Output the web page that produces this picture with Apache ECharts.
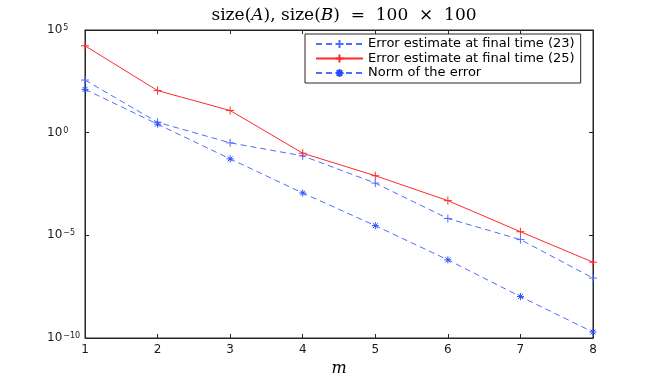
<!DOCTYPE html>
<html>
<head>
<meta charset="utf-8">
<script src="https://cdn.jsdelivr.net/npm/echarts@6/dist/echarts.min.js"></script>
<style>
  html, body { margin: 0; padding: 0; background: #fff; }
  #main { width: 654px; height: 382px; }
</style>
</head>
<body>
<div id="main"></div>
<script>
var m = [1, 2, 3, 4, 5, 6, 7, 8];
// values (log scale)
var est23 = [365, 3.2, 0.32, 0.074, 3.5e-3, 6.6e-5, 6.2e-6, 8.3e-8];
var est25 = [1.7e4, 112, 12, 0.1, 8e-3, 4.9e-4, 1.5e-5, 4.9e-7];
var errNorm = [129, 2.6, 0.053, 1.15e-3, 2.95e-5, 6.4e-7, 1.04e-8, 1.95e-10];
var yTicks = [1e-10, 1e-5, 1e0, 1e5];
var names = ['Error estimate at final time (23)', 'Error estimate at final time (25)', 'Norm of the error'];

var blue = '#4f6dff';
var red = '#ff2a2a';
var plus = 'path://M0,5L10,5M5,0L5,10';
var star = 'path://M5,0L5,10M0,5L10,5M1.5,1.5L8.5,8.5M1.5,8.5L8.5,1.5';

function pairs(ys) {
  return m.map(function (x, i) { return [x, ys[i]]; });
}

function supLabel(v) {
  var e = Math.round(Math.log10(v));
  return '{b|10}{s|' + String(e).replace('-', '\u2212') + '}';
}

var axisCol = '#262626';
var tickFont = { fontFamily: 'DejaVu Sans', fontSize: 12, color: '#1a1a1a' };

var myChart = echarts.init(document.getElementById('main'));
myChart.setOption({
  animation: false,
  title: {
    text: '{r|size(}{i|A}{r|), size(}{i|B}{r|)  =  100  \u00d7  100}',
    left: 339,
    textAlign: 'center',
    top: 2,
    textStyle: {
      fontWeight: 'normal',
      rich: {
        r: { fontFamily: 'DejaVu Serif', fontSize: 17, fontWeight: 'normal', color: '#000' },
        i: { fontFamily: 'DejaVu Serif', fontStyle: 'italic', fontWeight: 'normal', fontSize: 17, color: '#000' }
      }
    }
  },
  grid: {
    left: 85, right: 61, top: 30, bottom: 44,
    show: true, borderColor: axisCol, borderWidth: 1, backgroundColor: '#fff'
  },
  legend: {
    orient: 'vertical',
    left: 305,
    top: 34,
    itemWidth: 47,
    itemHeight: 10,
    itemGap: 1.5,
    padding: [3.5, 6, 3.5, 10],
    borderColor: axisCol,
    borderWidth: 1,
    backgroundColor: '#fff',
    textStyle: { fontFamily: 'DejaVu Sans', fontSize: 13, color: '#000' },
    data: names
  },
  xAxis: [{
    type: 'value', min: 1, max: 8, interval: 1, position: 'bottom',
    axisLine: { lineStyle: { color: axisCol } },
    axisTick: { inside: true, length: 4, lineStyle: { color: axisCol } },
    splitLine: { show: false },
    axisLabel: Object.assign({ margin: 6 }, tickFont),
    name: 'm', nameLocation: 'middle', nameGap: 22,
    nameTextStyle: { fontFamily: 'DejaVu Serif', fontStyle: 'italic', fontSize: 16, color: '#000' }
  }, {
    type: 'value', min: 1, max: 8, interval: 1, position: 'top',
    axisLine: { lineStyle: { color: axisCol } },
    axisTick: { inside: true, length: 4, lineStyle: { color: axisCol } },
    splitLine: { show: false },
    axisLabel: { show: false }
  }],
  yAxis: [{
    type: 'log', logBase: 10, min: yTicks[0], max: yTicks[yTicks.length - 1], interval: 5,
    position: 'left',
    axisLine: { show: true, lineStyle: { color: axisCol } },
    axisTick: { inside: true, length: 4, lineStyle: { color: axisCol } },
    minorTick: { show: false },
    splitLine: { show: false },
    axisLabel: {
      margin: 38, align: 'left',
      formatter: supLabel,
      rich: {
        b: { fontFamily: 'DejaVu Sans', fontSize: 12, color: '#1a1a1a', verticalAlign: 'bottom', lineHeight: 12 },
        s: { fontFamily: 'DejaVu Sans', fontSize: 8, color: '#1a1a1a', verticalAlign: 'top', lineHeight: 8, padding: [0, 0, 8, 1] }
      }
    }
  }, {
    type: 'log', logBase: 10, min: yTicks[0], max: yTicks[yTicks.length - 1], interval: 5,
    position: 'right',
    axisLine: { show: true, lineStyle: { color: axisCol } },
    axisTick: { inside: true, length: 4, lineStyle: { color: axisCol } },
    splitLine: { show: false },
    axisLabel: { show: false }
  }],
  series: [{
    name: names[0], type: 'line', data: pairs(est23),
    symbol: plus, symbolSize: 8,
    color: blue,
    itemStyle: { color: blue, borderColor: blue, borderWidth: 1 },
    lineStyle: { color: blue, width: 1, type: [6, 4] }
  }, {
    name: names[1], type: 'line', data: pairs(est25),
    symbol: plus, symbolSize: 8,
    color: red,
    itemStyle: { color: red, borderColor: red, borderWidth: 1 },
    lineStyle: { color: red, width: 1, type: 'solid' }
  }, {
    name: names[2], type: 'line', data: pairs(errNorm),
    symbol: star, symbolSize: 7,
    color: blue,
    itemStyle: { color: blue, borderColor: '#2a4cff', borderWidth: 1 },
    lineStyle: { color: blue, width: 1, type: [6, 4] }
  }]
});
</script>
</body>
</html>
